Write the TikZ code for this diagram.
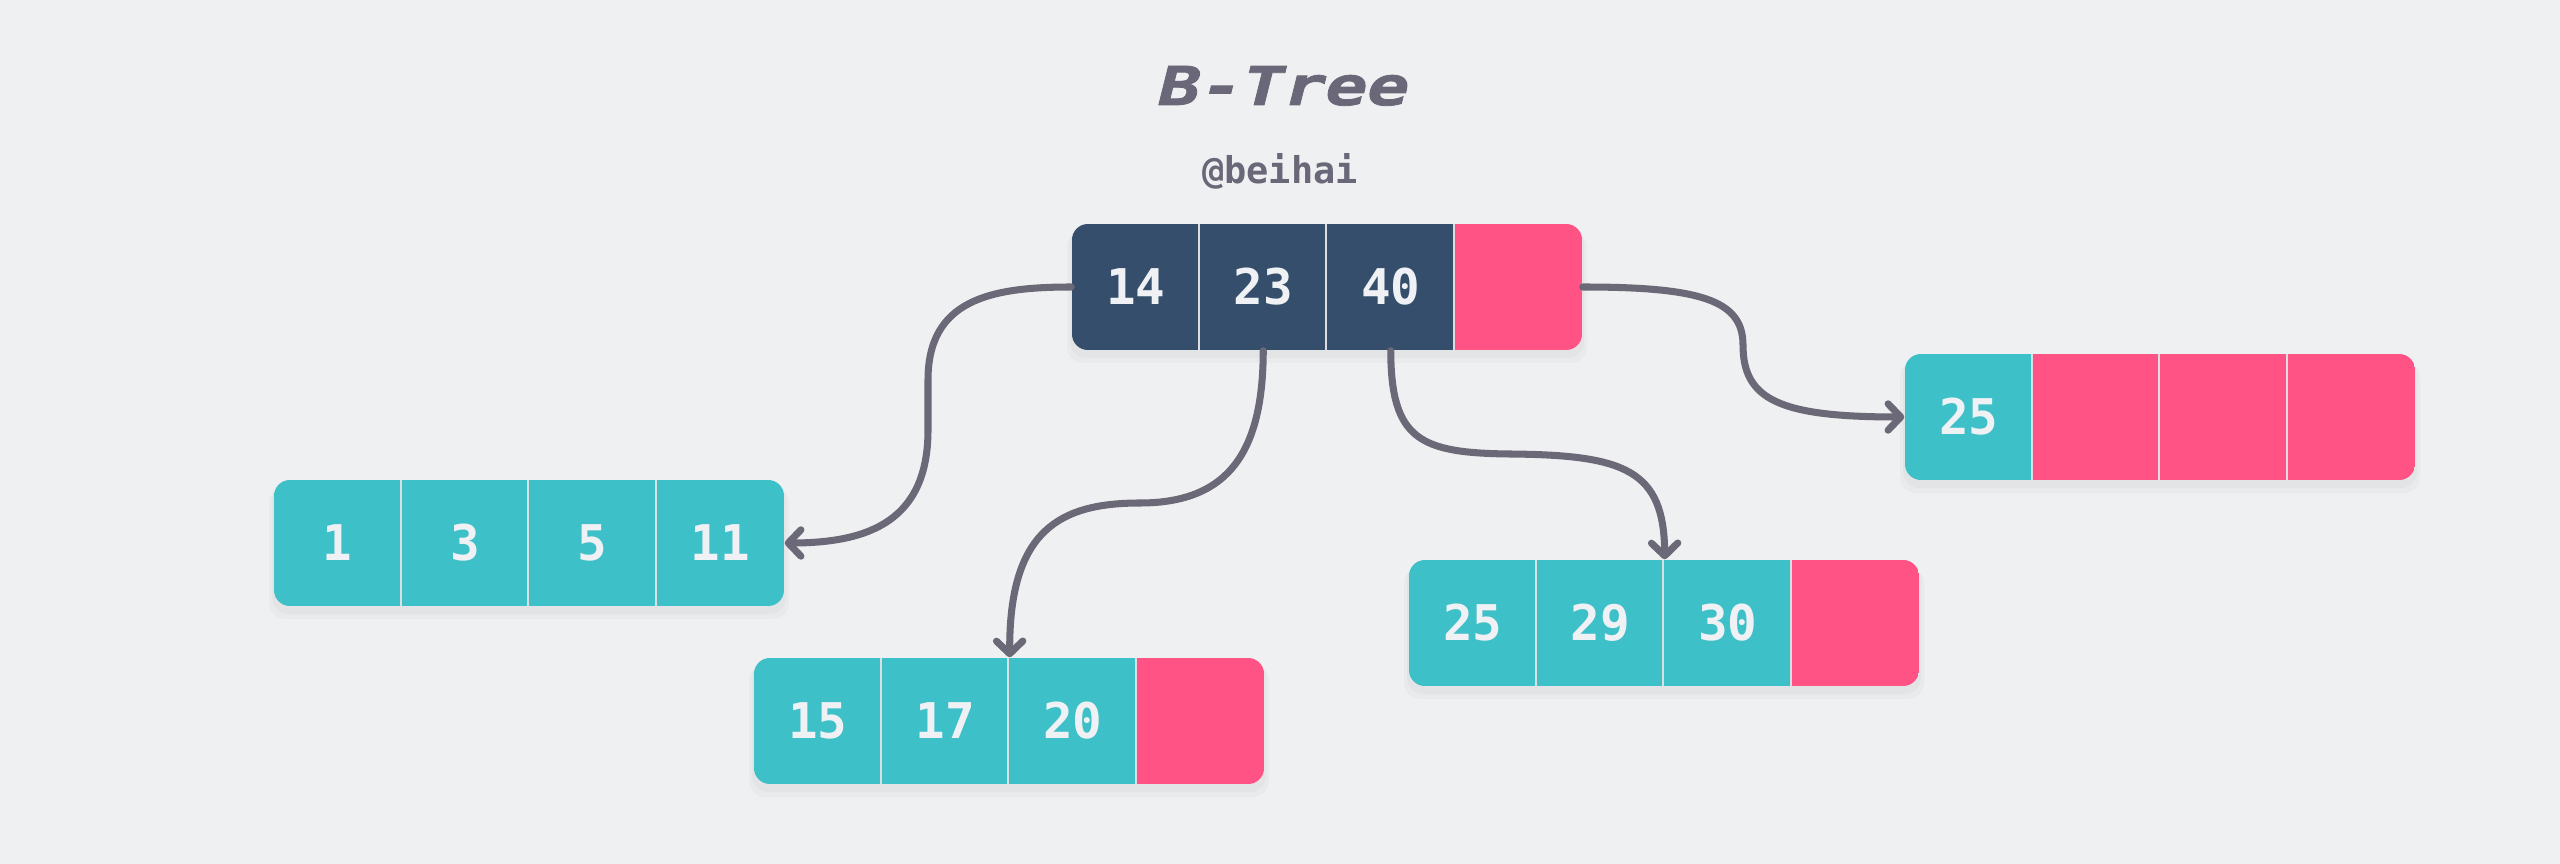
\documentclass[tikz,border=0pt]{standalone}
\usepackage{fontspec}
\usetikzlibrary{arrows.meta}
\newfontfamily\numfont{DejaVu Sans Mono}
\newfontfamily\ttlfont{DejaVu Sans Mono}[FakeSlant=0.25,FakeStretch=1.3,FakeBold=1.5]
\definecolor{bgc}{HTML}{EFF0F2}
\definecolor{darkc}{HTML}{344E6B}
\definecolor{tealc}{HTML}{3EC0C8}
\definecolor{pinkc}{HTML}{FE5384}
\definecolor{txtc}{HTML}{EFF1F4}
\definecolor{arrc}{HTML}{6B6877}
\definecolor{ttlc}{HTML}{6A6878}
\definecolor{divc}{HTML}{DCDDE0}
\tikzset{
  cellbox/.style={rectangle, minimum width=1.275cm, minimum height=1.26cm, inner sep=0pt,
    text=txtc, font=\numfont\bfseries\fontsize{14pt}{16pt}\selectfont},
  divline/.style={draw=divc, line width=0.6pt},
  link/.style={draw=arrc, line width=2pt, line cap=round, line join=round,
    -{Straight Barb[length=3.6pt,width=7.5pt,line cap=round,line join=round]}},
  shadowbox/.style={fill=black, opacity=0.025, rounded corners=4.5pt}
}
\newcommand{\bnode}[4]{%
  \begin{scope}
    \fill[shadowbox] (#2-2,#3+4) rectangle ++(514,130);
    \fill[shadowbox] (#2-5,#3+7) rectangle ++(520,132);
    \clip[rounded corners=4.5pt] (#2,#3) rectangle ++(510,126);
    \foreach \c/\t [count=\i] in {#4} {
      \node[cellbox, fill=\c] (#1\i) at ({#2+127.5*\i-63.75}, {#3+63}) {\t};
      \ifnum\i>1 \draw[divline] (#1\i.north west) -- (#1\i.south west);\fi
    }
  \end{scope}
}
\begin{document}
\begin{tikzpicture}[x=0.01cm, y=-0.01cm]
\fill[bgc] (0,0) rectangle (2560,864);
\useasboundingbox (0,0) rectangle (2560,864);

\node[text=ttlc, font=\ttlfont\bfseries\fontsize{15.2pt}{18pt}\selectfont, anchor=base] (title) at (1280,105) {B-Tree};
\node[text=ttlc, font=\numfont\bfseries\fontsize{10.5pt}{12pt}\selectfont, anchor=base] (author) at (1280,184) {@beihai};

\bnode{r}{1072}{224}{darkc/14, darkc/23, darkc/40, pinkc/{}}
\bnode{a}{274}{480}{tealc/1, tealc/3, tealc/5, tealc/11}
\bnode{b}{754}{658}{tealc/15, tealc/17, tealc/20, pinkc/{}}
\bnode{c}{1409}{560}{tealc/25, tealc/29, tealc/30, pinkc/{}}
\bnode{d}{1905}{354}{tealc/25, pinkc/{}, pinkc/{}, pinkc/{}}

\draw[link] (r1.west) .. controls (990,287) and (928,300) .. (928,380) -- (928,430)
  .. controls (928,520) and (870,543) .. (a4.east);
\draw[link] (r2.south) .. controls (1263,450) and (1230,503) .. (1140,503)
  .. controls (1060,503) and (1009,530) .. (b2.north east);
\draw[link] (r3.south) .. controls (1391,440) and (1420,453) .. (1510,454)
  .. controls (1625,455) and (1664,470) .. (c2.north east);
\draw[link] (r4.east) .. controls (1700,287) and (1743,300) .. (1743,345)
  .. controls (1743,400) and (1780,417) .. (d1.west);
\end{tikzpicture}
\end{document}
